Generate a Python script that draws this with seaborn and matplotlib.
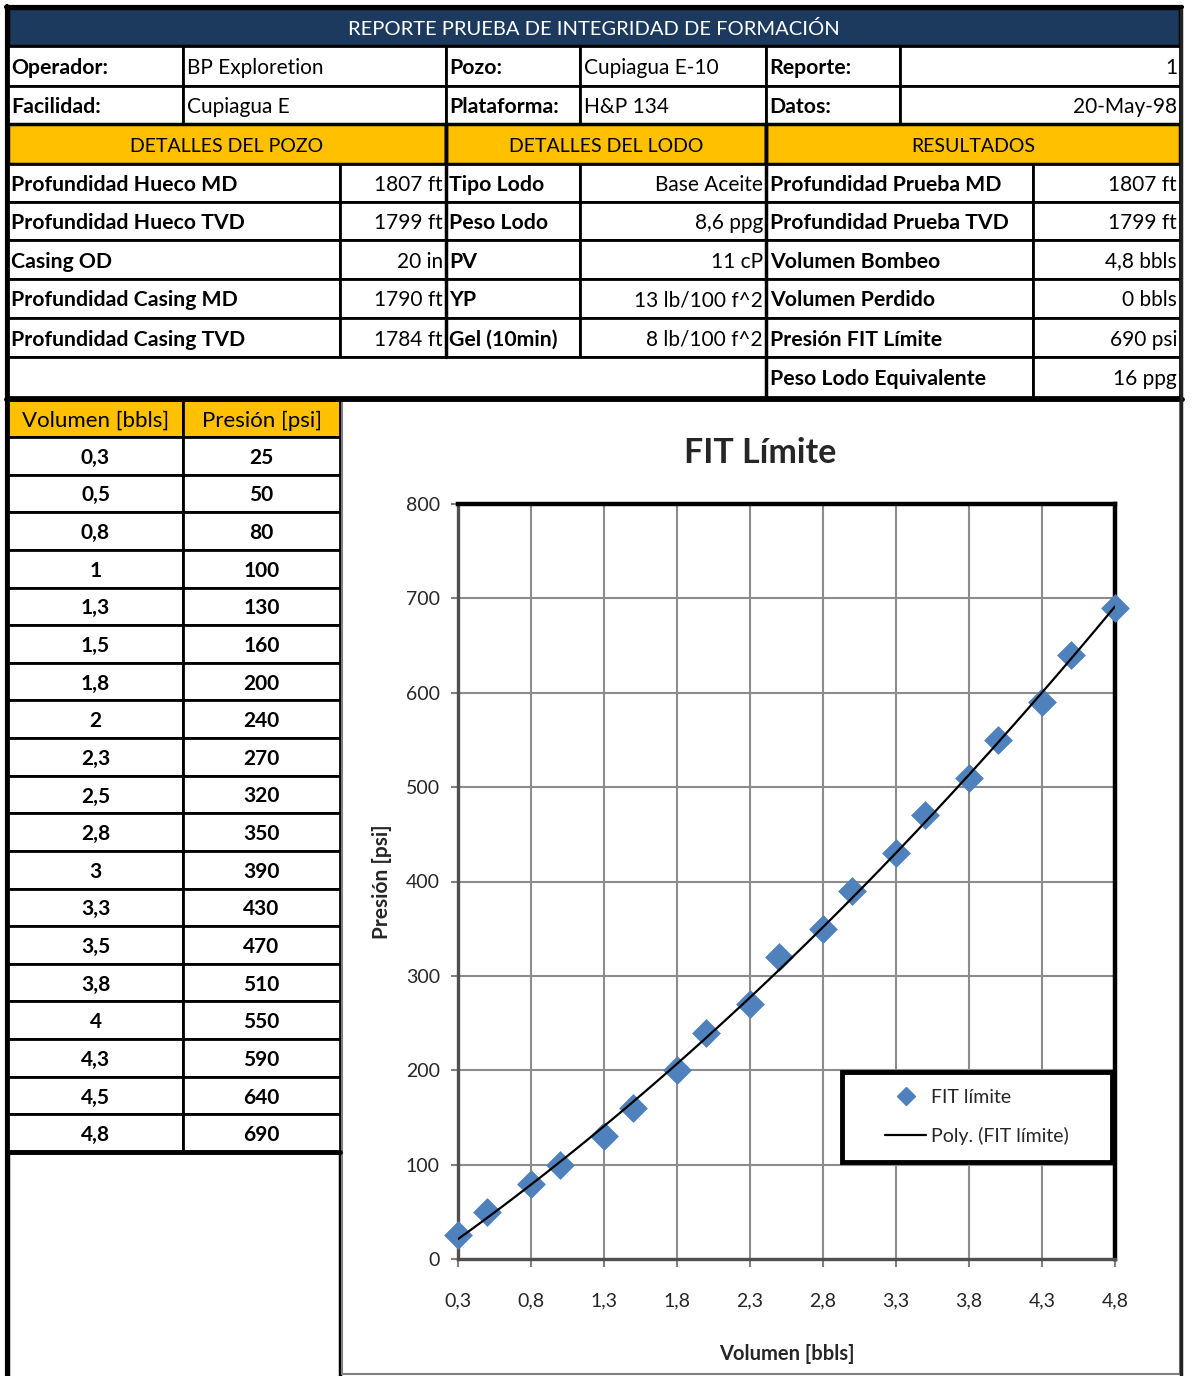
import numpy as np
import seaborn as sns
import matplotlib.pyplot as plt
from matplotlib.patches import Rectangle
from matplotlib.lines import Line2D
from matplotlib.ticker import FuncFormatter, MultipleLocator

# ---- data ----
volumen = [0.3, 0.5, 0.8, 1, 1.3, 1.5, 1.8, 2, 2.3, 2.5, 2.8, 3, 3.3, 3.5, 3.8, 4, 4.3, 4.5, 4.8]
presion = [25, 50, 80, 100, 130, 160, 200, 240, 270, 320, 350, 390, 430, 470, 510, 550, 590, 640, 690]

titulo = "REPORTE PRUEBA DE INTEGRIDAD DE FORMACIÓN"
info_labels = [["Operador:", "Pozo:", "Reporte:"],
               ["Facilidad:", "Plataforma:", "Datos:"]]
info_values = [["BP Exploretion", "Cupiagua E-10", "1"],
               ["Cupiagua E", "H&P 134", "20-May-98"]]
secciones = ["DETALLES DEL POZO", "DETALLES DEL LODO", "RESULTADOS"]
pozo_labels = ["Profundidad Hueco MD", "Profundidad Hueco TVD", "Casing OD",
               "Profundidad Casing MD", "Profundidad Casing TVD"]
pozo_values = ["1807 ft", "1799 ft", "20 in", "1790 ft", "1784 ft"]
lodo_labels = ["Tipo Lodo", "Peso Lodo", "PV", "YP", "Gel (10min)"]
lodo_values = ["Base Aceite", "8,6 ppg", "11 cP", "13 lb/100 f^2", "8 lb/100 f^2"]
result_labels = ["Profundidad Prueba MD", "Profundidad Prueba TVD", "Volumen Bombeo",
                 "Volumen Perdido", "Presión FIT Límite", "Peso Lodo Equivalente"]
result_values = ["1807 ft", "1799 ft", "4,8 bbls", "0 bbls", "690 psi", "16 ppg"]
tabla_headers = ["Volumen [bbls]", "Presión [psi]"]

NAVY = "#1C3A5E"
GOLD = "#FFC000"
BLUE = "#4F81BD"

sns.set_style("white")
plt.rcParams["font.family"] = ["Lato", "DejaVu Sans"]

W, H = 1192, 1376
fig = plt.figure(figsize=(W / 100, H / 100), dpi=100)
bg = fig.add_axes([0, 0, 1, 1])
bg.set_xlim(0, W)
bg.set_ylim(H, 0)
bg.axis("off")


def cell(x0, y0, x1, y1, fill="white", lw=2.0, ec="black"):
    bg.add_patch(Rectangle((x0, y0), x1 - x0, y1 - y0, facecolor=fill,
                           edgecolor=ec, lw=lw))


def txt(x, y, s, ha="left", bold=False, size=15, color="black"):
    # nudge down a little, excel text sits low in the cells
    bg.text(x, y + 2, s, ha=ha, va="center", fontsize=size, color=color,
            fontweight="bold" if bold else "normal")


# title bar
cell(8, 8, 1180, 46, fill=NAVY, lw=2.5)
txt(594, 27, titulo, ha="center", size=14.5, color="white")

# operador / facilidad rows
info_cols = [8, 183, 446, 580, 766, 900, 1180]
info_rows = [46, 86, 124]
for r in range(2):
    y0, y1 = info_rows[r], info_rows[r + 1]
    yc = (y0 + y1) / 2
    for k in range(3):
        xa, xb, xc = info_cols[2 * k], info_cols[2 * k + 1], info_cols[2 * k + 2]
        cell(xa, y0, xb, y1)
        cell(xb, y0, xc, y1)
        txt(xa + 3, yc, info_labels[r][k], bold=True, size=15.3)
        if k < 2:
            txt(xb + 4, yc, info_values[r][k])
        else:
            txt(xc - 3, yc, info_values[r][k], ha="right")

# section headers
sec_cols = [8, 446, 766, 1180]
for k in range(3):
    cell(sec_cols[k], 124, sec_cols[k + 1], 164, fill=GOLD, lw=2.5)
    txt((sec_cols[k] + sec_cols[k + 1]) / 2, 144, secciones[k], ha="center", size=14)

# detail rows
det_rows = [164, 202, 240, 279, 318, 357, 397]
det_cols = [8, 340, 446, 580, 766, 1033, 1180]
for i in range(6):
    y0, y1 = det_rows[i], det_rows[i + 1]
    yc = (y0 + y1) / 2
    if i < 5:
        cell(det_cols[0], y0, det_cols[1], y1)
        cell(det_cols[1], y0, det_cols[2], y1)
        cell(det_cols[2], y0, det_cols[3], y1)
        cell(det_cols[3], y0, det_cols[4], y1)
        txt(det_cols[0] + 3, yc, pozo_labels[i], bold=True, size=15.3)
        txt(det_cols[2] - 3, yc, pozo_values[i], ha="right")
        txt(det_cols[2] + 3, yc, lodo_labels[i], bold=True, size=15.3)
        txt(det_cols[4] - 3, yc, lodo_values[i], ha="right")
    else:
        cell(det_cols[0], y0, det_cols[4], y1)
    cell(det_cols[4], y0, det_cols[5], y1)
    cell(det_cols[5], y0, det_cols[6], y1)
    txt(det_cols[4] + 4, yc, result_labels[i], bold=True, size=15.3)
    txt(det_cols[6] - 3, yc, result_values[i], ha="right")

# section borders
bg.plot([446, 446], [124, 357], color="black", lw=2.5)
bg.plot([766, 766], [124, 397], color="black", lw=2.5)
bg.plot([6, 1182], [398.5, 398.5], color="black", lw=3.5)

# data table
tab_cols = [8, 183, 340]
cell(tab_cols[0], 400, tab_cols[1], 437, fill=GOLD)
cell(tab_cols[1], 400, tab_cols[2], 437, fill=GOLD)
txt(95.5, 418.5, tabla_headers[0], ha="center", size=16)
txt(261.5, 418.5, tabla_headers[1], ha="center", size=16)
row_h = (1152 - 437) / len(volumen)
for i, (v, p) in enumerate(zip(volumen, presion)):
    y0 = 437 + i * row_h
    cell(tab_cols[0], y0, tab_cols[1], y0 + row_h)
    cell(tab_cols[1], y0, tab_cols[2], y0 + row_h)
    txt(95.5, y0 + row_h / 2, f"{v:g}".replace(".", ","), ha="center", bold=True, size=15)
    txt(261.5, y0 + row_h / 2, f"{p}", ha="center", bold=True, size=15)
bg.plot([8, 340], [1152, 1152], color="black", lw=3.5)
cell(8, 1152, 340, 1380, lw=2.5)

# chart area border and outer frame
cell(342, 400, 1180, 1374, ec="#808080", lw=1.5)
bg.plot([7, 7], [6, 1376], color="black", lw=3)
bg.plot([1181, 1181], [6, 1376], color="#222222", lw=2.5)
bg.plot([6, 1182], [7, 7], color="black", lw=3)

# ---- chart ----
x0, x1, y0, y1 = 458, 1115, 504, 1259
ax = fig.add_axes([x0 / W, 1 - y1 / H, (x1 - x0) / W, (y1 - y0) / H])
sns.scatterplot(x=volumen, y=presion, marker="D", s=200, color=BLUE,
                edgecolor=BLUE, linewidth=0.5, ax=ax, zorder=3, clip_on=False)
sns.regplot(x=volumen, y=presion, order=2, ci=None, scatter=False, truncate=True,
            color="black", line_kws={"lw": 1.6, "zorder": 4}, ax=ax)

ax.set_xlim(0.3, 4.8)
ax.set_ylim(0, 800)
ax.set_xticks(np.arange(0.3, 4.81, 0.5))
ax.yaxis.set_major_locator(MultipleLocator(100))
ax.xaxis.set_major_formatter(FuncFormatter(lambda v, p: f"{v:.1f}".replace(".", ",")))
ax.grid(True, color="#8c8c8c", lw=1.5)
ax.set_axisbelow(True)
for side in ["top", "right"]:
    ax.spines[side].set_color("black")
    ax.spines[side].set_linewidth(3.2)
for side in ["left", "bottom"]:
    ax.spines[side].set_color("#505050")
    ax.spines[side].set_linewidth(2.4)
ax.tick_params(axis="x", which="major", length=6, width=1.5, color="#808080",
               pad=18, labelsize=14, labelcolor="#262626", bottom=True)
ax.tick_params(axis="y", which="major", length=5, width=1.5, color="#808080",
               pad=8, labelsize=14, labelcolor="#262626", left=True)
ax.set_xlabel("Volumen [bbls]", fontsize=14.5, fontweight="bold", labelpad=25)
ax.set_ylabel("Presión [psi]", fontsize=15, fontweight="bold", labelpad=10)
ax.set_title("FIT Límite", fontsize=24.5, fontweight="bold",
             x=(760 - x0) / (x1 - x0), y=(y1 - 453) / (y1 - y0), va="center", pad=0)

# legend box
ax.add_patch(Rectangle((842, 1072), 270, 90, transform=bg.transData, facecolor="white",
                       edgecolor="black", lw=3.5, zorder=5, clip_on=False))
handles = [Line2D([], [], marker="D", ls="none", color=BLUE, markersize=9),
           Line2D([], [], color="black", lw=1.6)]
leg = ax.legend(handles, ["FIT límite", "Poly. (FIT límite)"], loc="center",
                bbox_to_anchor=(977 / W, 1 - 1117 / H), bbox_transform=fig.transFigure,
                frameon=False, fontsize=14, handlelength=2.1, handletextpad=0.25,
                labelspacing=1.05)
leg.set_zorder(6)

fig.savefig("out.png", dpi=100)
